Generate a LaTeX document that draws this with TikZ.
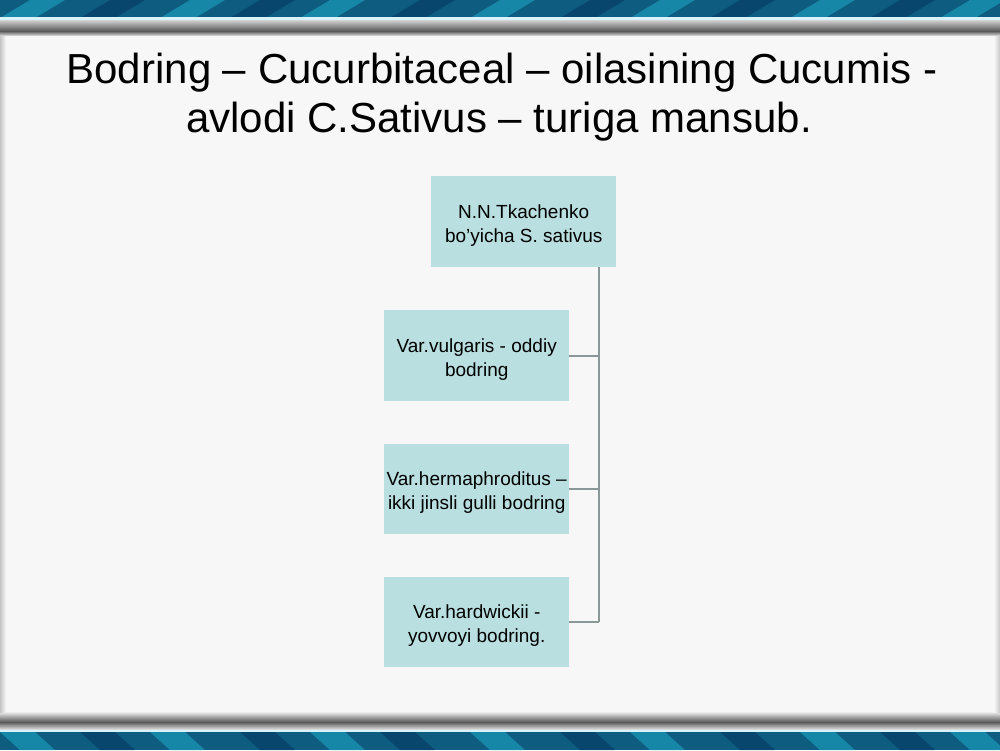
\documentclass[tikz,border=0pt]{standalone}
\usepackage{fontspec}
\setmainfont{Liberation Sans}
\definecolor{boxfill}{HTML}{B9DFE0}
\definecolor{linecol}{HTML}{8A9898}
\definecolor{bandA}{HTML}{0E5C80}
\definecolor{bandB}{HTML}{1A9AB8}
\definecolor{bandC}{HTML}{083E66}
\definecolor{panel}{HTML}{F7F7F7}
\newcommand{\topstrut}{\rule{0pt}{21pt}}
\tikzset{
  vbox/.style={fill=boxfill, draw=none, minimum width=185pt, minimum height=91pt,
    anchor=north west, align=center, inner sep=0pt,
    font=\fontsize{19}{24}\selectfont},
  conn/.style={draw=linecol, line width=1.8pt},
  titletext/.style={align=center, font=\fontsize{42}{49}\selectfont, inner sep=0pt}
}
\begin{document}
\begin{tikzpicture}[x=1pt,y=-1pt]
\useasboundingbox (0,0) rectangle (1000,750);
% background bands
\fill[bandA] (0,0) rectangle (1000,750);
\begin{scope}
\clip (0,0) rectangle (1000,18);
\foreach \x/\c in {30/bandB,110/bandC,190/bandB,260/bandC,330/bandB,420/bandC,500/bandB,590/bandC,660/bandB,740/bandC,820/bandB,900/bandC,970/bandB}{
  \fill[\c, opacity=0.7] (\x,0) -- (\x+35,0) -- (\x+5,18) -- (\x-30,18) -- cycle;
}
\end{scope}
\begin{scope}
\clip (0,732) rectangle (1000,750);
\foreach \x/\c in {0/bandB,80/bandC,150/bandB,240/bandC,310/bandB,380/bandC,470/bandB,560/bandC,630/bandB,720/bandC,800/bandB,880/bandC,950/bandB}{
  \fill[\c, opacity=0.7] (\x,732) -- (\x+35,732) -- (\x+55,750) -- (\x+20,750) -- cycle;
}
\end{scope}
% light lines
\fill[cyan!15!white] (0,17) rectangle (1000,20);
\fill[cyan!15!white] (0,729) rectangle (1000,732);
% gray bars
\shade[top color=gray!35, bottom color=black!65] (0,20) rectangle (1000,31);
\shade[top color=black!65, bottom color=gray!20] (0,31) rectangle (1000,36);
\shade[top color=gray!15, bottom color=black!65] (0,712) rectangle (1000,722);
\shade[top color=black!65, bottom color=gray!30] (0,722) rectangle (1000,729);
% panel
\shade[left color=gray!45, right color=panel] (0,36) rectangle (6,712);
\fill[panel] (6,36) rectangle (994,712);
\shade[left color=panel, right color=gray!45] (994,36) rectangle (1000,712);
% title
\node[titletext, anchor=base] (title1) at (502,83) {Bodring – Cucurbitaceal – oilasining Cucumis -};
\node[titletext, anchor=base] (title2) at (499,132) {avlodi C.Sativus – turiga mansub.};
% boxes
\node[vbox, minimum height=91pt] (top) at (431,176) {\topstrut N.N.Tkachenko\\bo’yicha S. sativus};
\node[vbox, minimum height=91pt] (b1) at (384,310) {\topstrut Var.vulgaris - oddiy\\bodring};
\node[vbox, minimum height=90pt] (b2) at (384,444) {\topstrut Var.hermaphroditus –\\ikki jinsli gulli bodring};
\node[vbox, minimum height=90pt] (b3) at (384,577) {\topstrut Var.hardwickii -\\yovvoyi bodring.};
% connectors
\coordinate (trunktop) at (599,267);
\coordinate (trunkend) at (599,622);
\draw[conn] (trunktop) -- (trunkend);
\draw[conn] (b1.east) -- (b1.east -| trunktop);
\draw[conn] (b2.east) -- (b2.east -| trunktop);
\draw[conn] (b3.east) -- (b3.east -| trunktop);
\end{tikzpicture}
\end{document}
